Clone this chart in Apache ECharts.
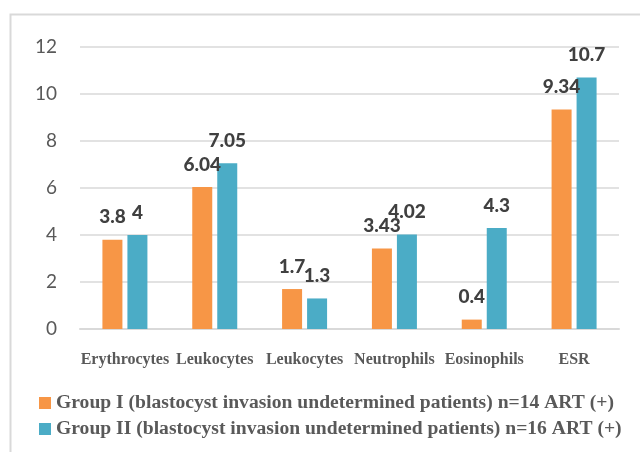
<!DOCTYPE html>
<html>
<head>
<meta charset="utf-8">
<script src="https://cdn.jsdelivr.net/npm/echarts@6/dist/echarts.min.js"></script>
<style>
  html, body { margin: 0; padding: 0; background: #fff; }
  #chart { width: 640px; height: 452px; }
</style>
</head>
<body>
<div id="chart"></div>
<script>
// data
var categories = ["Erythrocytes", "Leukocytes", "Leukocytes", "Neutrophils", "Eosinophils", "ESR"];
var groupOne = [3.8, 6.04, 1.7, 3.43, 0.4, 9.34];
var groupTwo = [4, 7.05, 1.3, 4.02, 4.3, 10.7];
var seriesNames = [
  "Group I (blastocyst invasion undetermined patients) n=14 ART (+)",
  "Group II (blastocyst invasion undetermined patients) n=16 ART (+)"
];

var myChart = echarts.init(document.getElementById("chart"));

var labelStyle = {
  show: true,
  position: "top",
  distance: 13,
  fontFamily: "Lato",
  fontWeight: 900,
  fontSize: 19,
  color: "#404040"
};

var option = {
  animation: false,
  color: ["#F79646", "#4BACC6"],
  graphic: [
    {
      type: "rect",
      left: 8,
      top: 12,
      shape: { width: 700, height: 500 },
      style: { fill: "none", stroke: "#d9d9d9", lineWidth: 2 }
    }
  ],
  grid: { left: 80, right: 21, top: 47, bottom: 123 },
  legend: {
    orient: "vertical",
    left: 34,
    top: 388,
    itemWidth: 12,
    itemHeight: 12,
    itemGap: 6,
    icon: "rect",
    textStyle: {
      fontFamily: "Liberation Serif",
      fontWeight: "bold",
      fontSize: 19.6,
      color: "#595959"
    },
    data: seriesNames
  },
  xAxis: {
    type: "category",
    data: categories,
    axisLine: { show: true, lineStyle: { color: "#d9d9d9", width: 2 } },
    axisTick: { show: false },
    axisLabel: {
      margin: 23,
      interval: 0,
      fontFamily: "Liberation Serif",
      fontWeight: "bold",
      fontSize: 16,
      color: "#595959"
    }
  },
  yAxis: {
    type: "value",
    min: 0,
    max: 12,
    interval: 2,
    axisLine: { show: false },
    axisTick: { show: false },
    splitLine: { lineStyle: { color: "#d9d9d9", width: 1.5 } },
    axisLabel: {
      margin: 23,
      fontFamily: "Lato",
      fontSize: 19,
      color: "#595959"
    }
  },
  series: [
    {
      name: seriesNames[0],
      type: "bar",
      data: groupOne,
      barWidth: 20,
      barGap: "25%",
      label: labelStyle
    },
    {
      name: seriesNames[1],
      type: "bar",
      data: groupTwo,
      barWidth: 20,
      label: labelStyle
    }
  ]
};

myChart.setOption(option);
</script>
</body>
</html>
